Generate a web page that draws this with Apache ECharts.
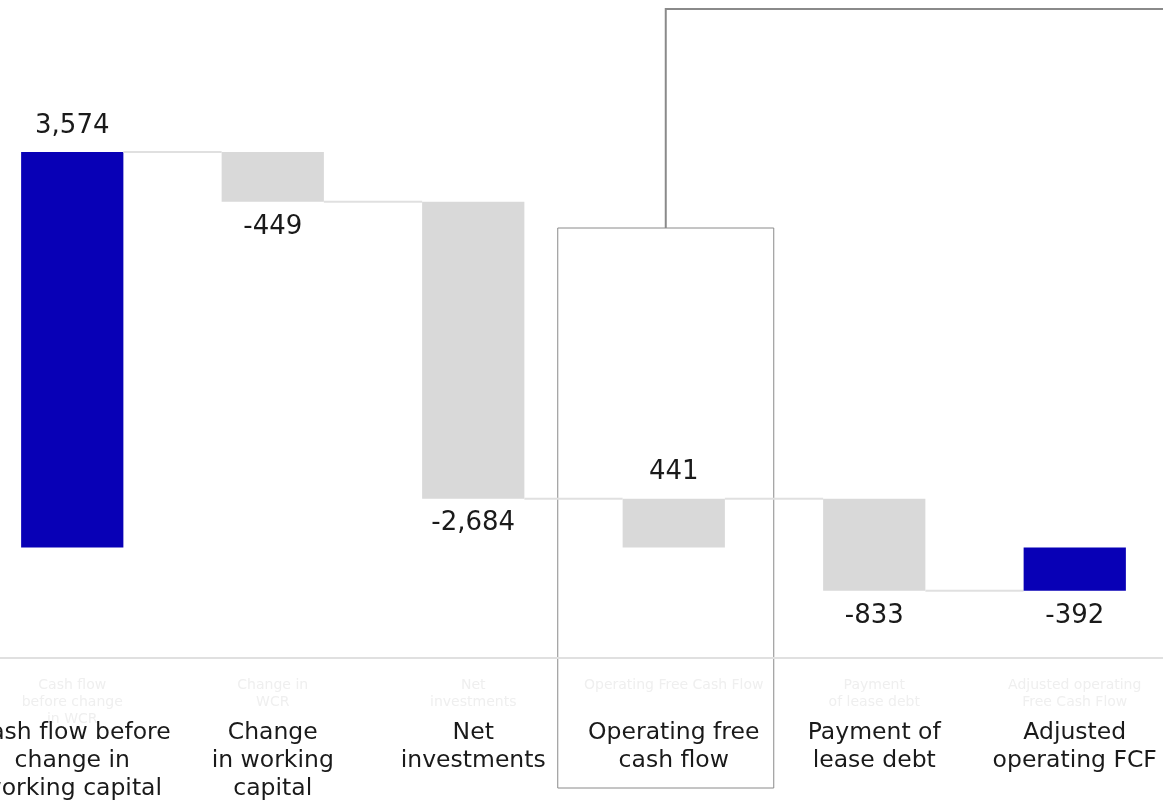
<!DOCTYPE html>
<html>
<head>
<meta charset="utf-8">
<script src="https://cdn.jsdelivr.net/npm/echarts@6/dist/echarts.min.js"></script>
<style>
  html, body { margin: 0; padding: 0; background: #fff; }
  #chart { width: 1163px; height: 803px; }
</style>
</head>
<body>
<div id="chart"></div>
<script>
const categories = [
    'Cash flow before\nchange in\nworking capital',
    'Change\nin working\ncapital',
    'Net\ninvestments',
    'Operating free\ncash flow',
    'Payment of\nlease debt',
    'Adjusted\noperating FCF'
];
// faint duplicate captions sitting just under the axis
const ghostLabels = [
    'Cash flow\nbefore change\nin WCR',
    'Change in\nWCR',
    'Net\ninvestments',
    'Operating Free Cash Flow',
    'Payment\nof lease debt',
    'Adjusted operating\nFree Cash Flow'
];
const values = [3574, -449, -2684, 441, -833, -392];
const barKind = ['total', 'delta', 'delta', 'subtotal', 'delta', 'total'];
const highlighted = [true, false, false, false, false, true];

const FONT = '"DejaVu Sans", sans-serif';
const BLUE = '#0800b6';
const GREY = '#d9d9d9';

function initWaterfall() {
    const dom = document.getElementById('chart');
    const chart = echarts.init(dom);

    // build start / end of every bar from the running total
    let running = 0;
    const rows = values.map((v, i) => {
        let start, end;
        if (barKind[i] === 'delta') {
            start = running; end = running + v;
        } else {
            start = 0; end = v;
        }
        running = end;
        return [i, start, end, v, running];
    });

    function renderBar(params, api) {
        const i = api.value(0);
        const start = api.value(1);
        const end = api.value(2);
        const v = api.value(3);
        const level = api.value(4);
        const band = api.size([1, 0])[0];
        const w = band * 0.51;
        const p0 = api.coord([i, start]);
        const p1 = api.coord([i, end]);
        const top = Math.min(p0[1], p1[1]);
        const bottom = Math.max(p0[1], p1[1]);
        const x = p0[0] - w / 2;
        const children = [{
            type: 'rect',
            shape: { x: x, y: top, width: w, height: bottom - top },
            style: { fill: highlighted[i] ? BLUE : GREY }
        }, {
            type: 'text',
            style: {
                text: echarts.format.addCommas(v),
                x: p0[0],
                y: v >= 0 ? top - 26 : bottom + 25,
                align: 'center',
                verticalAlign: 'middle',
                fill: '#1a1a1a',
                fontSize: 26,
                fontFamily: FONT
            }
        }];
        if (i < values.length - 1) {
            const ly = api.coord([i, level])[1];
            children.push({
                type: 'line',
                shape: { x1: x + w, y1: ly, x2: x + band, y2: ly },
                style: { stroke: '#e0e0e0', lineWidth: 2 }
            });
        }
        return { type: 'group', children: children };
    }

    chart.setOption({
        animation: false,
        grid: { left: -28, right: -12, top: 105, bottom: 145, outerBoundsMode: 'none', containLabel: false },
        xAxis: [{
            type: 'category',
            data: categories,
            position: 'bottom',
            axisLine: { onZero: false, lineStyle: { color: '#e0e0e0', width: 2 } },
            axisTick: { show: false },
            axisLabel: {
                interval: 0, margin: 61, color: '#1a1a1a',
                fontSize: 23.5, lineHeight: 28, fontFamily: FONT
            }
        }, {
            type: 'category',
            data: ghostLabels,
            position: 'bottom',
            axisLine: { show: false },
            axisTick: { show: false },
            axisLabel: {
                interval: 0, margin: 19, color: '#efefef',
                fontSize: 14, lineHeight: 17, fontFamily: FONT
            }
        }],
        yAxis: { type: 'value', min: -1000, max: 4000, show: false },
        series: [{
            type: 'custom',
            renderItem: renderBar,
            encode: { x: 0, y: [1, 2] },
            data: rows,
            clip: false
        }]
    });

    // box and bracket around "Operating free cash flow"
    const cx = chart.convertToPixel({ xAxisIndex: 0 }, 3);
    const boxLeft = cx - 116, boxRight = cx + 100;
    const mid = (boxLeft + boxRight) / 2;
    chart.setOption({
        graphic: [{
            type: 'rect',
            shape: { x: boxLeft, y: 228, width: boxRight - boxLeft, height: 560 },
            style: { fill: 'none', stroke: '#8a8a8a', lineWidth: 1 }
        }, {
            type: 'polyline',
            shape: { points: [[mid, 228], [mid, 9], [1170, 9]] },
            style: { fill: 'none', stroke: '#8a8a8a', lineWidth: 2 }
        }]
    });
    window.addEventListener('resize', () => chart.resize());
}

document.addEventListener('DOMContentLoaded', initWaterfall);
</script>
</body>
</html>
